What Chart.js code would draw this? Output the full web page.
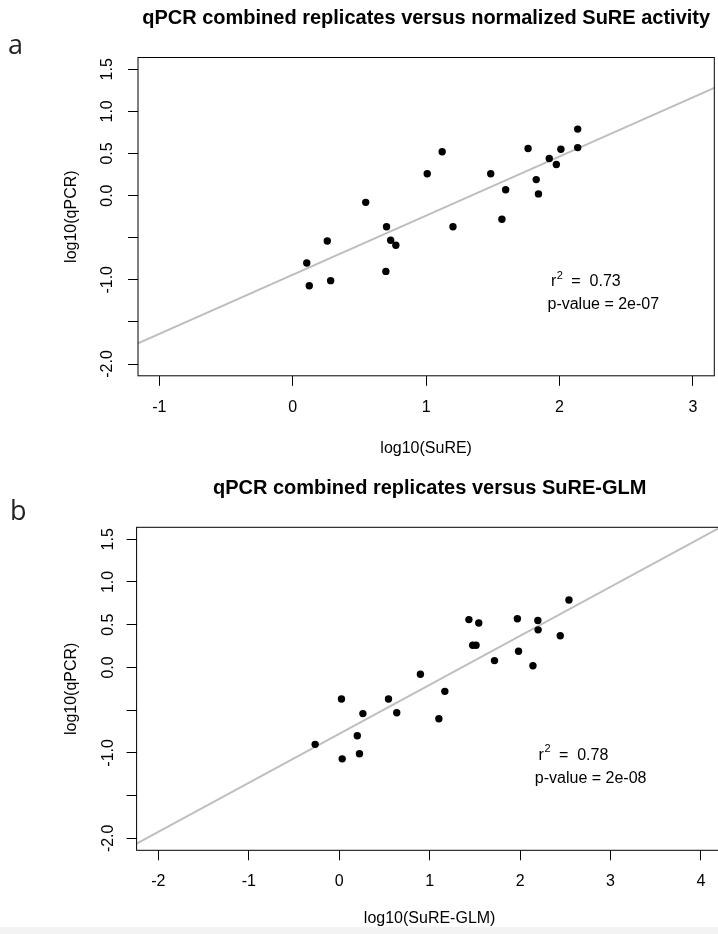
<!DOCTYPE html>
<html>
<head>
<meta charset="utf-8">
<script src="https://cdn.jsdelivr.net/npm/chart.js@4.4.1/dist/chart.umd.min.js"></script>
<style>
html, body { margin: 0; padding: 0; background: #fff; }
body { width: 718px; height: 934px; overflow: hidden; position: relative; }
#strip { position: absolute; left: 0; bottom: 0; width: 718px; height: 7px; background: #f3f3f3; }
canvas { position: absolute; left: 0; }
#chartA { top: 0; }
#chartB { top: 467px; }
.panel { position: absolute; font-family: 'Open Sans', sans-serif; font-size: 27px; line-height: 27px; color: #222; }
</style>
</head>
<body>
<div id="strip"></div>
<canvas id="chartA" width="718" height="467" style="width:718px;height:467px"></canvas>
<canvas id="chartB" width="740" height="467" style="width:740px;height:467px"></canvas>
<div class="panel" style="left:8px;top:30px">a</div>
<div class="panel" style="left:10px;top:496px">b</div>
<script>
// qPCR versus SuRE scatter panels

const xTicksA = [-1, 0, 1, 2, 3];
const xTicksB = [-2, -1, 0, 1, 2, 3, 4];
const yTicks = [-2, -1.5, -1, -0.5, 0, 0.5, 1, 1.5];
const yTickLabels = ['-2.0', '', '-1.0', '', '0.0', '0.5', '1.0', '1.5'];

// panel a: normalized SuRE activity
const sureA = [0.105, 0.124, 0.259, 0.284, 0.547, 0.703, 0.734, 0.773, 0.698, 1.008, 1.120, 1.201,
    1.484, 1.596, 1.568, 1.764, 1.825, 1.842, 1.923, 1.976, 2.010, 2.136, 2.136];
const qpcrA = [-0.80, -1.07, -0.54, -1.01, -0.08, -0.37, -0.53, -0.59, -0.90, 0.26, 0.52, -0.37,
    0.26, 0.07, -0.28, 0.56, 0.19, 0.02, 0.44, 0.37, 0.55, 0.79, 0.57];
const fitAX = [-1.16, 3.16];
const fitAY = [-1.754, 1.279];
const r2A = '0.73';
const pA = '2e-07';

// panel b: SuRE-GLM
const glmB = [-0.266, 0.025, 0.033, 0.200, 0.224, 0.262, 0.545, 0.636, 0.898, 1.102, 1.168, 1.434,
    1.543, 1.476, 1.513, 1.717, 1.970, 1.983, 2.142, 2.196, 2.199, 2.444, 2.540];
const qpcrB = [-0.90, -0.37, -1.07, -0.80, -1.01, -0.54, -0.37, -0.53, -0.08, -0.60, -0.28, 0.56,
    0.52, 0.26, 0.26, 0.08, 0.57, 0.19, 0.02, 0.55, 0.44, 0.37, 0.79];
const fitBX = [-2.24, 4.24];
const fitBY = [-2.063, 1.654];
const r2B = '0.78';
const pB = '2e-08';

const FONT = "'Liberation Sans', Arial, sans-serif";

// box around plot + r^2 / p-value text
const statsPlugin = {
    id: 'stats',
    afterDatasetsDraw(chart, args, o) {
        const { ctx, chartArea: a, scales: { x, y } } = chart;
        ctx.save();
        ctx.strokeStyle = '#000';
        ctx.lineWidth = 1;
        ctx.strokeRect(a.left, a.top, a.right - a.left, a.bottom - a.top);

        ctx.fillStyle = '#000';
        ctx.textBaseline = 'middle';
        ctx.textAlign = 'left';
        const cx = x.getPixelForValue(o.r2At[0]);
        const cy = y.getPixelForValue(o.r2At[1]);
        const rest = '  =  ' + o.r2;
        ctx.font = '16px ' + FONT;
        const wr = ctx.measureText('r').width;
        const wRest = ctx.measureText(rest).width;
        ctx.font = '11px ' + FONT;
        const w2 = ctx.measureText('2').width;
        const sx = cx - (wr + w2 + wRest) / 2;
        ctx.font = '16px ' + FONT;
        ctx.fillText('r', sx, cy);
        ctx.fillText(rest, sx + wr + w2, cy);
        ctx.font = '11px ' + FONT;
        ctx.fillText('2', sx + wr + 0.5, cy - 6);

        ctx.font = '16px ' + FONT;
        ctx.textAlign = 'center';
        ctx.fillText('p-value = ' + o.p, x.getPixelForValue(o.pAt[0]), y.getPixelForValue(o.pAt[1]));
        ctx.restore();
    }
};

function makeChart(id, p) {
    const ctx = document.getElementById(id).getContext('2d');
    const points = p.xs.map((v, i) => ({ x: v, y: p.ys[i] }));
    const line = p.fitX.map((v, i) => ({ x: v, y: p.fitY[i] }));

    return new Chart(ctx, {
        type: 'scatter',
        data: {
            datasets: [{
                data: points,
                backgroundColor: '#000',
                borderWidth: 0,
                pointRadius: 3.7,
                pointHoverRadius: 3.7
            }, {
                type: 'line',
                data: line,
                borderColor: '#bebebe',
                borderWidth: 2,
                pointRadius: 0,
                fill: false
            }]
        },
        options: {
            responsive: false,
            animation: false,
            devicePixelRatio: 1,
            layout: { padding: { left: 0, right: p.padRight, top: 0, bottom: 0 } },
            plugins: {
                legend: { display: false },
                tooltip: { enabled: false },
                title: {
                    display: true,
                    text: p.title,
                    color: '#000',
                    fullSize: false,
                    font: { family: FONT, size: 20, weight: 'bold', lineHeight: 1.2 },
                    padding: { top: p.titleTop, bottom: p.titleBottom }
                },
                stats: { r2: p.r2, p: p.p, r2At: p.r2At, pAt: p.pAt }
            },
            scales: {
                x: {
                    type: 'linear',
                    min: p.xMin,
                    max: p.xMax,
                    afterBuildTicks: s => { s.ticks = p.xTicks.map(v => ({ value: v })); },
                    afterFit: s => { s.height = p.xAxisHeight; },
                    ticks: {
                        autoSkip: false,
                        maxRotation: 0,
                        padding: 12,
                        color: '#000',
                        font: { family: FONT, size: 16 },
                        callback: v => String(v)
                    },
                    grid: { drawOnChartArea: false, tickLength: 10, color: '#000', lineWidth: 1 },
                    border: { display: false },
                    title: {
                        display: true,
                        text: p.xLabel,
                        color: '#000',
                        font: { family: FONT, size: 16 },
                        padding: { top: 0, bottom: p.xTitleBottom }
                    }
                },
                y: {
                    type: 'linear',
                    min: -2.14,
                    max: 1.64,
                    afterBuildTicks: s => { s.ticks = yTicks.map(v => ({ value: v })); },
                    afterFit: s => { s.width = p.yAxisWidth; },
                    ticks: {
                        autoSkip: false,
                        minRotation: 90,
                        maxRotation: 90,
                        crossAlign: 'center',
                        padding: p.yTickPad,
                        color: '#000',
                        font: { family: FONT, size: 16 },
                        callback: v => yTickLabels[yTicks.indexOf(v)]
                    },
                    grid: { drawOnChartArea: false, tickLength: 10, color: '#000', lineWidth: 1 },
                    border: { display: false },
                    title: {
                        display: true,
                        text: 'log10(qPCR)',
                        color: '#000',
                        font: { family: FONT, size: 16 },
                        padding: { top: p.yTitleTop, bottom: 0 }
                    }
                }
            }
        },
        plugins: [statsPlugin]
    });
}

makeChart('chartA', {
    xs: sureA, ys: qpcrA, fitX: fitAX, fitY: fitAY,
    xMin: -1.16, xMax: 3.16, xTicks: xTicksA,
    title: 'qPCR combined replicates versus normalized SuRE activity',
    xLabel: 'log10(SuRE)',
    padRight: 2, yAxisWidth: 138, xAxisHeight: 91.2,
    titleTop: 6.5, titleBottom: 27,
    yTickPad: 6.2, yTitleTop: 62.4, xTitleBottom: 8.4,
    r2: r2A, p: pA, r2At: [2.197, -1.02], pAt: [2.328, -1.30]
});

makeChart('chartB', {
    xs: glmB, ys: qpcrB, fitX: fitBX, fitY: fitBY,
    xMin: -2.24, xMax: 4.24, xTicks: xTicksB,
    title: 'qPCR combined replicates versus SuRE-GLM',
    xLabel: 'log10(SuRE-GLM)',
    padRight: 17.3, yAxisWidth: 136.6, xAxisHeight: 83.7,
    titleTop: 9, titleBottom: 27.3,
    yTickPad: 4.5, yTitleTop: 62.1, xTitleBottom: 5.4,
    r2: r2B, p: pB, r2At: [2.59, -1.026], pAt: [2.78, -1.30]
});
</script>
</body>
</html>
